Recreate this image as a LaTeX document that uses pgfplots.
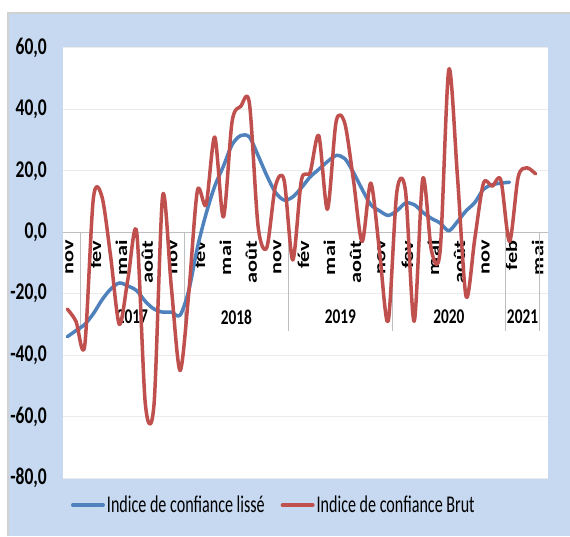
\documentclass[border=0pt]{standalone}
\usepackage{fontspec}
\setmainfont{Carlito}[FakeStretch=0.73]
\newfontfamily\rotfont{Carlito}[FakeStretch=1.35]
\newfontfamily\legfont{Carlito}[FakeStretch=0.67]
\usepackage{pgfplots}
\usepackage{pgfplotstable}
\pgfplotsset{compat=1.18}
\definecolor{bgblue}{HTML}{C6D9F0}
\definecolor{serblue}{HTML}{4F81BD}
\definecolor{serred}{HTML}{C0504D}

\pgfplotstableread{
i v
0 -34
1 -32
2 -30
3 -26.5
4 -22
5 -18.5
6 -16.5
7 -17.5
8 -19
9 -22.5
10 -25
11 -26
12 -26
13 -27
14 -19
15 -5
16 6
17 15
18 21.5
19 28.5
20 31.5
21 31
22 25
23 18.5
24 13
25 10.5
26 11.5
27 14.5
28 18
29 20.5
30 23
31 25
32 24
33 19.5
34 14
35 9
36 7
37 5.5
38 7
39 9.5
40 9
41 6.5
42 4.5
43 3
44 0.5
45 3.5
46 7
47 9.7
48 14
49 15.5
50 16
51 16.3
}\lisse

\pgfplotstableread{
i v
0 -25
1 -29
2 -37
3 11
4 11.5
5 -8
6 -30
7 -15
8 0
9 -56
10 -56
11 12
12 -18
13 -45
14 -20
15 13.5
16 9
17 31
18 5
19 36
20 41
21 42
22 2
23 -5
24 15
25 17
26 -9
27 17
28 19.5
29 31.5
30 7.5
31 36
32 35.5
33 17
34 -3
35 16
36 -6
37 -29
38 13
39 13.5
40 -29
41 17.5
42 -6
43 -6
44 53
45 18
46 -21
47 -2
48 16
49 15
50 17
51 -3
52 18
53 21
54 19
}\brut

\begin{document}
\begin{tikzpicture}
\useasboundingbox (-63pt,-58pt) rectangle (507pt,478pt);
\fill[white] (-63pt,-58pt) rectangle (507pt,478pt);
\fill[bgblue] (-55pt,-58pt) rectangle (507pt,465pt);
\draw[black!18, line width=1.2pt] (-55pt,-58pt) -- (-55pt,465pt) -- (507pt,465pt);
\begin{axis}[
  at={(0pt,0pt)}, anchor=south west,
  scale only axis, width=485pt, height=430pt,
  xmin=-0.5, xmax=55.44, ymin=-80, ymax=60,
  axis x line=middle, axis y line=left,
  axis line style={-},
  x axis line style={draw=black!25, line width=1pt},
  y axis line style={draw=none},
  axis background/.style={fill=white},
  hide obscured y ticks=false,
  hide obscured x ticks=false,
  ytick={-80,-60,...,60},
  ymajorgrids, grid style={draw=black!8, line width=1pt},
  major tick length=0pt,
  xtick={0,3,...,54},
  xticklabels={nov,fev,mai,août,nov,fev,mai,août,nov,fév,mai,août,nov,fev,mai,août,nov,feb,mai},
  xticklabel style={yshift=-8pt, xshift=2pt, rotate=90, anchor=east, font=\rotfont\bfseries\fontsize{16.5}{16.5}\selectfont, inner sep=0pt},
  yticklabel style={font=\bfseries\fontsize{24}{24}\selectfont, anchor=east, inner sep=0pt, xshift=-16pt,
    /pgf/number format/.cd, fixed, fixed zerofill, precision=1, use comma, assume math mode=true},
  legend columns=2,
  legend style={draw=none, fill=none, at={(axis description cs:0.016,-0.063)}, anchor=west,
    font=\legfont\fontsize{24}{24}\selectfont, inner sep=0pt,
    /tikz/every even column/.append style={column sep=14pt}},
  legend image code/.code={\draw[#1, line width=4pt] (0pt,0pt) -- (30pt,0pt);},
]
\foreach \s in {-0.5,1.5,13.5,25.5,37.5,50.5,54.5}{
  \edef\temp{\noexpand\draw[black!25, line width=1pt] (axis cs:\s,0) -- (axis cs:\s,-32);}
  \temp
}
\node[font=\bfseries\fontsize{21}{21}\selectfont] at (axis cs:7.5,-27.6) {2017};
\node[font=\bfseries\fontsize{21}{21}\selectfont] at (axis cs:19.5,-27.6) {2018};
\node[font=\bfseries\fontsize{21}{21}\selectfont] at (axis cs:31.5,-27.6) {2019};
\node[font=\bfseries\fontsize{21}{21}\selectfont] at (axis cs:44,-27.6) {2020};
\node[font=\bfseries\fontsize{21}{21}\selectfont] at (axis cs:52.5,-27.6) {2021};
\addplot[serblue, line width=3.5pt, smooth, no markers, line join=round, line cap=round] table[x=i,y=v] {\lisse};
\addlegendentry{Indice de confiance lissé}
\addplot[serred, line width=3.5pt, smooth, no markers, line join=round, line cap=round] table[x=i,y=v] {\brut};
\addlegendentry{Indice de confiance Brut}
\end{axis}
\end{tikzpicture}
\end{document}
